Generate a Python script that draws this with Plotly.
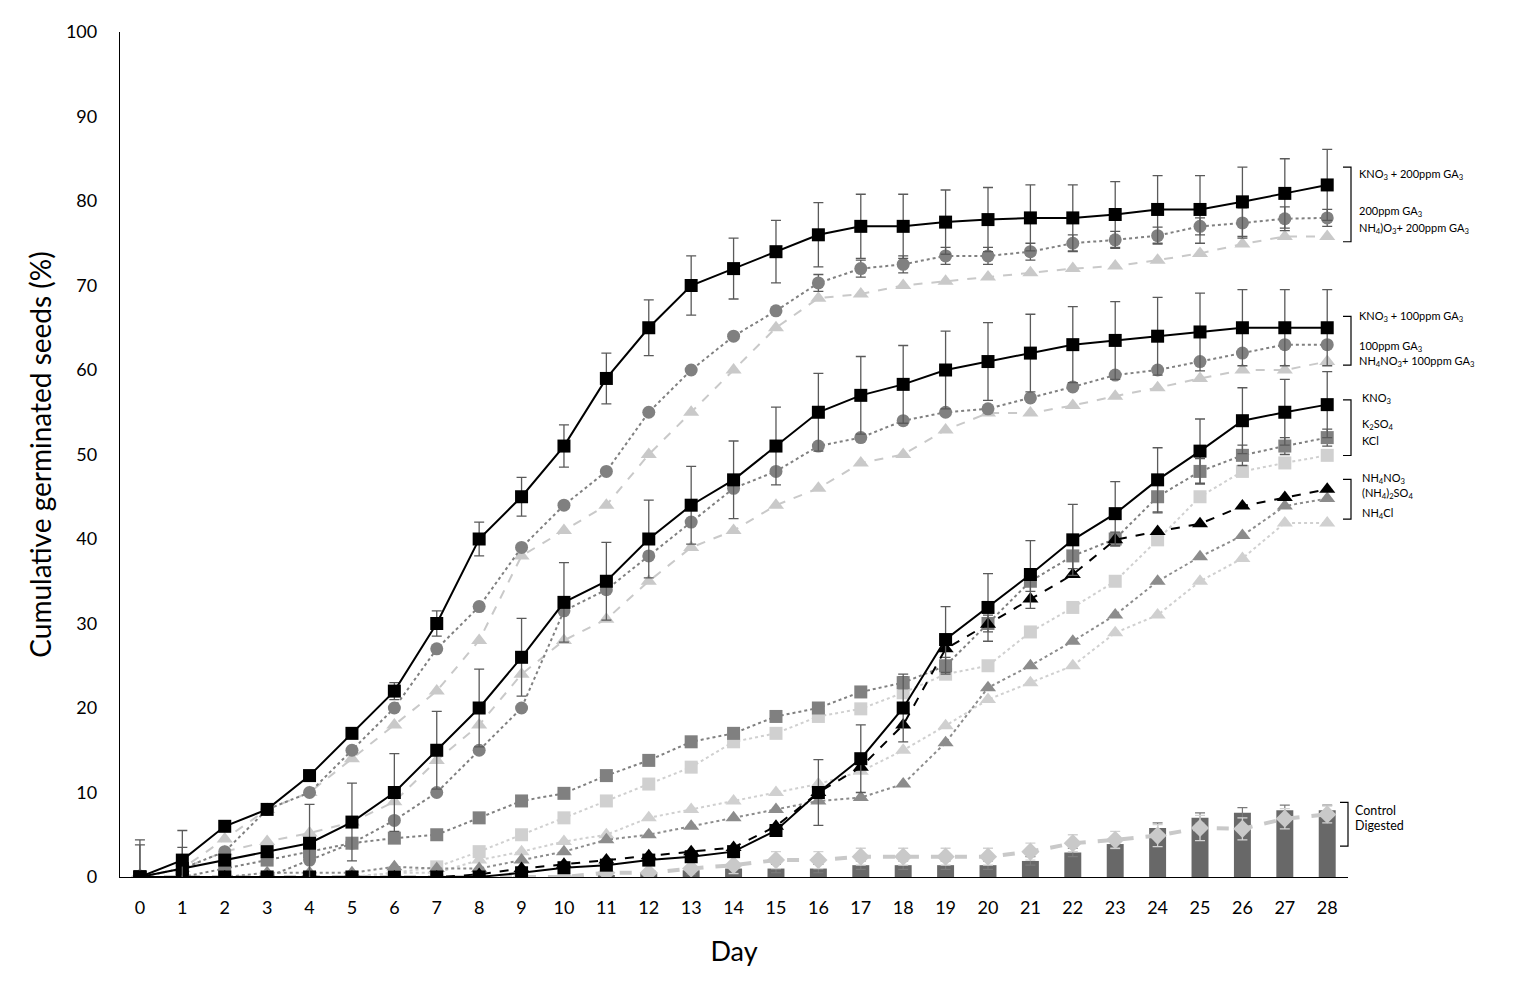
import plotly.graph_objects as go

days = list(range(29))

kno3_ga200 = [0, 2, 6, 8, 12, 17, 22, 30, 40, 45, 51, 59, 65, 70, 72, 74, 76, 77, 77, 77.5, 77.8, 78, 78, 78.4, 79, 79, 79.9, 80.9, 81.9]
kno3_ga200_err = [4.4, 3.5, None, None, None, None, 1, 1.5, 2, 2.3, 2.5, 3, 3.3, 3.5, 3.6, 3.7, 3.8, 3.8, 3.8, 3.8, 3.8, 3.9, 3.9, 3.9, 4, 4, 4.1, 4.1, 4.2]
ga200 = [0, 1, 3, 8, 10, 15, 20, 27, 32, 39, 44, 48, 55, 60, 64, 67, 70.3, 72, 72.5, 73.5, 73.5, 74, 75, 75.4, 75.9, 77, 77.4, 77.9, 78]
ga200_err = [None]*16 + [1, 1, 1, 1, 1, 1, 1, 1, 1, 1, 1.8, 1.4, 1, 1]
nh4no3_ga200 = [0, 1, 4.5, 8, 10, 14, 18, 22, 28, 38, 41, 44, 50, 55, 60, 65, 68.5, 69, 70, 70.5, 71, 71.5, 72, 72.3, 73, 73.8, 74.9, 75.8, 75.8]

kno3_ga100 = [0, 1, 2, 3, 4, 6.5, 10, 15, 20, 26, 32.5, 35, 40, 44, 47, 51, 55, 57, 58.3, 60, 61, 62, 63, 63.5, 64, 64.5, 65, 65, 65]
kno3_ga100_err = [3.8, 2.5, None, None, 4.6, 4.6, 4.6, 4.6, 4.6, 4.6, 4.7, 4.6, 4.6, 4.6, 4.6, 4.6, 4.6, 4.6, 4.6, 4.6, 4.6, 4.6, 4.5, 4.6, 4.6, 4.6, 4.5, 4.5, 4.5]
ga100 = [0, 0, 0, 0, 2, 4, 6.7, 10, 15, 20, 31.5, 34, 38, 42, 46, 48, 51, 52, 54, 55, 55.4, 56.7, 58, 59.4, 60, 61, 62, 63, 63]
nh4no3_ga100 = [0, 1, 3, 4.2, 5.2, 6.5, 8.9, 13.8, 18, 24, 28, 30.5, 35, 39, 41, 44, 46, 49, 50, 52.9, 54.9, 54.9, 55.8, 56.9, 57.9, 59, 60, 60, 61]

kno3 = [0, 0, 0, 0, 0, 0, 0, 0, 0, 0.5, 1.1, 1.4, 2, 2.4, 3, 5.5, 10, 14, 20, 28.1, 31.9, 35.8, 39.9, 43, 47, 50.4, 54, 55, 55.9]
kno3_err = [None]*16 + [3.9, 4, 4, 3.9, 4, 4, 4.2, 3.8, 3.8, 3.8, 3.9, 3.9, 3.9]
k2so4 = [0, 0, 1, 2, 3, 4, 4.6, 5, 7, 9, 9.9, 12, 13.8, 16, 17, 19, 20, 21.9, 23, 25, 30, 35, 38, 40, 45, 48, 49.9, 51, 52]
k2so4_err = [None]*18 + [0.7, 1, 1, 1.2, 1.5, 0.8, 1.9, 1.5, 1.2, 1, 1]
kcl = [0, 0, 0, 0, 0, 0, 0.5, 1.2, 3, 5, 7, 9, 11, 13, 16, 17, 19, 19.9, 21.8, 24, 25, 29, 31.9, 35, 39.9, 45, 48, 49, 49.9]
nh4no3 = [0, 0, 0, 0, 0, 0, 0, 0, 0.3, 1, 1.5, 2, 2.5, 3, 3.5, 6, 10, 13, 18, 27, 29.9, 32.9, 35.8, 39.9, 40.9, 41.8, 43.9, 44.9, 45.9]
nh42so4 = [0, 0, 0, 0.5, 0.5, 0.5, 1.2, 1, 1, 2, 3, 4.4, 5, 6, 7, 8, 9, 9.4, 11, 15.9, 22.4, 25, 27.9, 31, 35, 37.9, 40.4, 43.9, 44.8]
nh4cl = [0, 0, 0, 0, 0, 0, 0.5, 0.5, 2, 3, 4.2, 5, 7, 8, 9, 10, 11, 12.5, 15, 17.9, 21, 23, 25, 28.9, 31, 35, 37.7, 41.9, 41.9]

control = [0, 0, 0, 0, 0, 0, 0, 0, 0, 0, 0, 0.2, 0.5, 0.8, 1, 1, 1, 1.4, 1.4, 1.4, 1.4, 1.9, 2.9, 3.9, 5.8, 7, 7.6, 7.9, 7.9]
control_err = [None]*13 + [0.5, 0.5, 0.5, 0.5, 0.5, 0.5, 0.5, 0.5, 0.5, 0.5, 0.6, 0.6, 0.6, 0.6, 0.6, 0.6]
digested = [0, 0, 0, 0, 0, 0, 0, 0, 0, 0, 0, 0.5, 0.5, 1, 1.4, 2, 2, 2.4, 2.4, 2.4, 2.4, 3, 4, 4.4, 4.9, 5.8, 5.7, 6.9, 7.4]
digested_err = [None]*14 + [1, 1, 1, 1, 1, 1, 1, 1, 1, 1, 1.3, 1.5, 1.3, 1.2, 1]

BLACK = "#000000"
GRAY = "#808080"
MIDGRAY = "#8c8c8c"
LIGHT = "#c9c9c9"
ERRC = "#5a5a5a"
FONT = "Lato"

fig = go.Figure()

fig.add_trace(go.Bar(x=days, y=control, width=0.4, marker=dict(color="#686868", line=dict(width=0)),
                     error_y=dict(type="data", array=control_err, color="#7a7a7a", thickness=1.2, width=5),
                     name="Control"))


def line(y, color, symbol, dash, size=13, lw=2, err=None, errcolor=ERRC, name=""):
    kw = {}
    if err is not None:
        kw["error_y"] = dict(type="data", array=err, color=errcolor, thickness=1.3, width=5)
    fig.add_trace(go.Scatter(x=days, y=y, mode="lines+markers", name=name,
                             line=dict(color=color, width=lw, dash=dash),
                             marker=dict(symbol=symbol, size=size, color=color, line=dict(width=0)),
                             **kw))


line(digested, LIGHT, "diamond", "dash", size=14, lw=4, err=digested_err, errcolor="#d2d2d2", name="Digested")
line(nh4cl, "#d0d0d0", "triangle-up", "dot", size=14, name="NH4Cl")
line(kcl, "#d0d0d0", "square", "dot", name="KCl")
line(nh42so4, MIDGRAY, "triangle-up", "dot", size=14, name="(NH4)2SO4")
line(k2so4, GRAY, "square", "dot", err=k2so4_err, name="K2SO4")
line(nh4no3_ga100, LIGHT, "triangle-up", "dash", size=14, name="NH4NO3+100ppm GA3")
line(nh4no3_ga200, LIGHT, "triangle-up", "dash", size=14, name="NH4NO3+200ppm GA3")
line(ga100, GRAY, "circle", "dot", name="100ppm GA3")
line(ga200, GRAY, "circle", "dot", err=ga200_err, name="200ppm GA3")
line(nh4no3, BLACK, "triangle-up", "dash", size=14, name="NH4NO3")
line(kno3, BLACK, "square", "solid", err=kno3_err, name="KNO3")
line(kno3_ga100, BLACK, "square", "solid", err=kno3_ga100_err, name="KNO3+100ppm GA3")
line(kno3_ga200, BLACK, "square", "solid", err=kno3_ga200_err, name="KNO3+200ppm GA3")

# page body margin offsets the figure by this many pixels
OFF = 8
FIG_W, FIG_H = 1526 - OFF, 998 - OFF
# plot area in screen pixels
L, R, T, B = 120, 1348, 27, 877
W, H = R - L, B - T


def px(xp):
    return (xp - L) / W


def py(yp):
    return (B - yp) / H


groups = [
    (1343, 1351, 163, 238, 1357, 11, [("KNO<sub>3</sub> + 200ppm GA<sub>3</sub>", 170),
                                       ("200ppm GA<sub>3</sub>", 208),
                                       ("NH<sub>4</sub>)O<sub>3</sub>+ 200ppm GA<sub>3</sub>", 225)]),
    (1343, 1351, 313, 362, 1357, 11, [("KNO<sub>3</sub> + 100ppm GA<sub>3</sub>", 313),
                                       ("100ppm GA<sub>3</sub>", 343),
                                       ("NH<sub>4</sub>NO<sub>3</sub>+ 100ppm GA<sub>3</sub>", 358)]),
    (1343, 1351, 397, 453, 1360, 11, [("KNO<sub>3</sub>", 396),
                                       ("K<sub>2</sub>SO<sub>4</sub>", 422),
                                       ("KCl", 438)]),
    (1343, 1351, 477, 517, 1360, 11, [("NH<sub>4</sub>NO<sub>3</sub>", 476),
                                       ("(NH<sub>4</sub>)<sub>2</sub>SO<sub>4</sub>", 491),
                                       ("NH<sub>4</sub>Cl", 511)]),
    (1340, 1348, 802, 846, 1353, 12.5, [("Control", 810), ("Digested", 825)]),
]

shapes = []
annotations = []
for x0, x1, y0, y1, tx, fs, labels in groups:
    path = "M {a},{b} L {c},{b} L {c},{d} L {a},{d}".format(a=px(x0), b=py(y0), c=px(x1), d=py(y1))
    shapes.append(dict(type="path", xref="paper", yref="paper", path=path,
                       line=dict(color="#000000", width=1.2)))
    for txt, yy in labels:
        annotations.append(dict(xref="paper", yref="paper", x=px(tx), y=py(yy), text=txt,
                                showarrow=False, xanchor="left", yanchor="middle",
                                font=dict(family=FONT, size=fs, color="#000000")))

fig.update_layout(
    width=FIG_W, height=FIG_H,
    margin=dict(l=L - OFF, r=FIG_W - (R - OFF), t=T - OFF, b=FIG_H - (B - OFF), pad=0),
    paper_bgcolor="white", plot_bgcolor="white",
    showlegend=False, barmode="overlay",
    font=dict(family=FONT, color="#000000"),
    shapes=shapes, annotations=annotations,
    xaxis=dict(range=[-0.47, 28.49], tickmode="array", tickvals=days, ticktext=[str(d) for d in days],
               showline=True, linecolor="#000000", linewidth=1.3, showgrid=False, zeroline=False,
               ticks="", ticklabelstandoff=14, tickfont=dict(size=18, family=FONT),
               title=dict(text="Day", font=dict(size=27, family=FONT), standoff=25)),
    yaxis=dict(range=[0, 100], dtick=10, showline=True, linecolor="#000000", linewidth=1.3,
               showgrid=False, zeroline=False, ticks="", ticklabelstandoff=18,
               tickfont=dict(size=18, family=FONT),
               title=dict(text="Cumulative germinated seeds (%)", font=dict(size=28, family=FONT), standoff=6)),
)

fig.write_html("out.html")
